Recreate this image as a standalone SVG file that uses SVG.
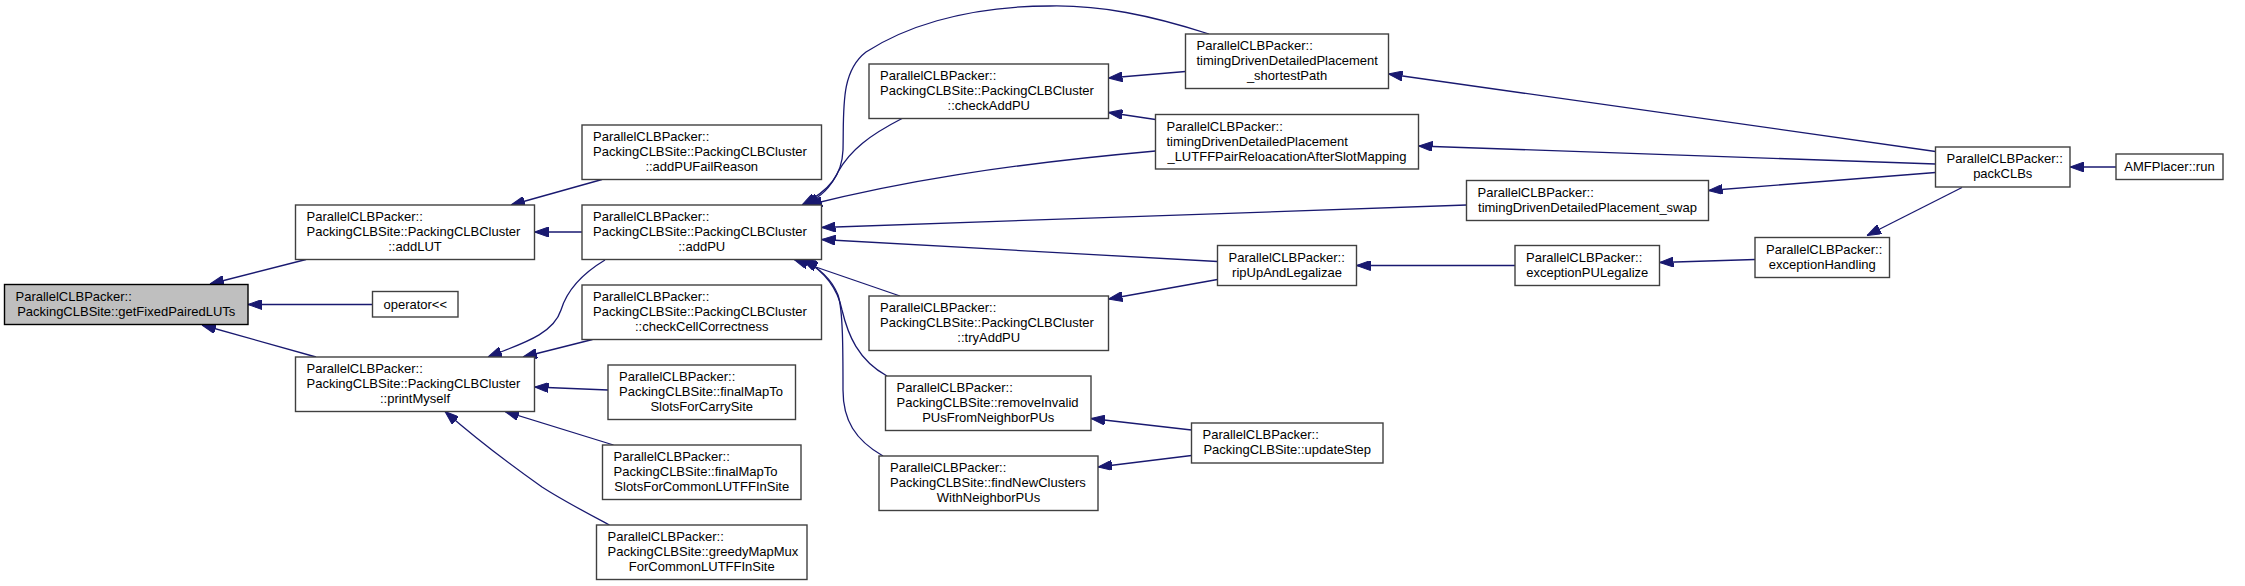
<svg xmlns="http://www.w3.org/2000/svg" width="2245" height="586" viewBox="0 0 2245 586">
<style>
.n rect{fill:#ffffff;stroke:#404040;stroke-width:1.4}
.root rect{fill:#bfbfbf;stroke:#000000;stroke-width:1.4}
text{font-family:"Liberation Sans",Arial,sans-serif;font-size:13px;fill:#000000}
.c{text-anchor:middle}
.e path{fill:none;stroke:#191970;stroke-width:1.3}
</style>
<defs>
<marker id="ah" viewBox="0 0 14 10" refX="14" refY="5" markerWidth="14" markerHeight="10" markerUnits="userSpaceOnUse" orient="auto">
<path d="M0,0 L14,5 L0,10 z" fill="#191970" stroke="#191970" stroke-width="1"/>
</marker>
</defs>
<rect x="0" y="0" width="2245" height="586" fill="#ffffff"/>
<g id="edges" class="e">
<path marker-end="url(#ah)" d="M306,259.5 L210,284"/>
<path marker-end="url(#ah)" d="M372.5,304.5 L248,304.5"/>
<path marker-end="url(#ah)" d="M316,357 L202,325"/>
<path marker-end="url(#ah)" d="M602,179.5 L511,205"/>
<path marker-end="url(#ah)" d="M582,232 L534.5,232"/>
<path marker-end="url(#ah)" d="M605,260 C585,272 568,287 561,310 C553,335 520,344 488,357"/>
<path marker-end="url(#ah)" d="M592.5,339.5 L523,357"/>
<path marker-end="url(#ah)" d="M608,390 L534.5,387"/>
<path marker-end="url(#ah)" d="M613.5,445 L505,411.5"/>
<path marker-end="url(#ah)" d="M609.5,525 C585,512 562,500 542,487 C515,468 480,442 445,411.5"/>
<path marker-end="url(#ah)" d="M1209,34 C1150,15 1100,5 1050,6 C960,6 900,30 866,52 C840,72 844,110 843,150 C842,175 830,190 802,205"/>
<path marker-end="url(#ah)" d="M902,118.5 C870,135 850,150 838,172 C830,188 822,196 805,205"/>
<path marker-end="url(#ah)" d="M1155.5,151 C1000,165 900,182 808,205"/>
<path marker-end="url(#ah)" d="M1466.5,205 L821.5,227.5"/>
<path marker-end="url(#ah)" d="M1217.5,261.5 L821.5,239.5"/>
<path marker-end="url(#ah)" d="M900,296 L794,259.5"/>
<path marker-end="url(#ah)" d="M887,376 C858,360 848,335 842,310 C838,290 825,272 804,259.5"/>
<path marker-end="url(#ah)" d="M883,456 C855,440 843,420 843,390 C843,350 843,310 838,295 C832,280 820,268 802,259.5"/>
<path marker-end="url(#ah)" d="M1185.5,71.5 L1108.5,78"/>
<path marker-end="url(#ah)" d="M1155.5,119.5 L1108.5,112.5"/>
<path marker-end="url(#ah)" d="M1217.5,279.5 L1108.5,299"/>
<path marker-end="url(#ah)" d="M1191.5,430 L1091,418.5"/>
<path marker-end="url(#ah)" d="M1191.5,455.5 L1098,467"/>
<path marker-end="url(#ah)" d="M1935.5,151.5 L1388.5,74"/>
<path marker-end="url(#ah)" d="M1935.5,164 L1418.5,146"/>
<path marker-end="url(#ah)" d="M1935.5,172.5 L1708.5,190.5"/>
<path marker-end="url(#ah)" d="M1515,265.5 L1356.5,265.5"/>
<path marker-end="url(#ah)" d="M1755,259.5 L1659.5,262.5"/>
<path marker-end="url(#ah)" d="M1962,187.5 L1867,235.5"/>
<path marker-end="url(#ah)" d="M2116,167 L2070,167"/>
</g>
<g id="getFixedPairedLUTs" class="root"><rect x="4.5" y="284.5" width="243.5" height="40"/><text x="15.5" y="300.5">ParallelCLBPacker::</text><text class="c" x="126.25" y="315.5">PackingCLBSite::getFixedPairedLUTs</text></g>
<g id="addLUT" class="n"><rect x="295.5" y="205" width="239" height="54.5"/><text x="306.5" y="221">ParallelCLBPacker::</text><text x="306.5" y="236">PackingCLBSite::PackingCLBCluster</text><text class="c" x="415" y="251">::addLUT</text></g>
<g id="operator" class="n"><rect x="372.5" y="291.5" width="85.5" height="25.5"/><text class="c" x="415.25" y="308.5">operator&lt;&lt;</text></g>
<g id="printMyself" class="n"><rect x="295.5" y="357" width="239" height="54.5"/><text x="306.5" y="373">ParallelCLBPacker::</text><text x="306.5" y="388">PackingCLBSite::PackingCLBCluster</text><text class="c" x="415" y="403">::printMyself</text></g>
<g id="addPUFailReason" class="n"><rect x="582" y="125" width="239.5" height="54.5"/><text x="593" y="141">ParallelCLBPacker::</text><text x="593" y="156">PackingCLBSite::PackingCLBCluster</text><text class="c" x="701.75" y="171">::addPUFailReason</text></g>
<g id="addPU" class="n"><rect x="582" y="205" width="239.5" height="54.5"/><text x="593" y="221">ParallelCLBPacker::</text><text x="593" y="236">PackingCLBSite::PackingCLBCluster</text><text class="c" x="701.75" y="251">::addPU</text></g>
<g id="checkCellCorrectness" class="n"><rect x="582" y="285" width="239.5" height="54.5"/><text x="593" y="301">ParallelCLBPacker::</text><text x="593" y="316">PackingCLBSite::PackingCLBCluster</text><text class="c" x="701.75" y="331">::checkCellCorrectness</text></g>
<g id="finalMapToSlotsForCarrySite" class="n"><rect x="608" y="365" width="187.5" height="54.5"/><text x="619" y="381">ParallelCLBPacker::</text><text x="619" y="396">PackingCLBSite::finalMapTo</text><text class="c" x="701.75" y="411">SlotsForCarrySite</text></g>
<g id="finalMapToSlotsForCommonLUTFFInSite" class="n"><rect x="602.5" y="445" width="198.5" height="54.5"/><text x="613.5" y="461">ParallelCLBPacker::</text><text x="613.5" y="476">PackingCLBSite::finalMapTo</text><text class="c" x="701.75" y="491">SlotsForCommonLUTFFInSite</text></g>
<g id="greedyMapMuxForCommonLUTFFInSite" class="n"><rect x="596.5" y="525" width="210.5" height="54.5"/><text x="607.5" y="541">ParallelCLBPacker::</text><text x="607.5" y="556">PackingCLBSite::greedyMapMux</text><text class="c" x="701.75" y="571">ForCommonLUTFFInSite</text></g>
<g id="checkAddPU" class="n"><rect x="869" y="64" width="239.5" height="54.5"/><text x="880" y="80">ParallelCLBPacker::</text><text x="880" y="95">PackingCLBSite::PackingCLBCluster</text><text class="c" x="988.75" y="110">::checkAddPU</text></g>
<g id="tryAddPU" class="n"><rect x="869" y="296" width="239.5" height="54.5"/><text x="880" y="312">ParallelCLBPacker::</text><text x="880" y="327">PackingCLBSite::PackingCLBCluster</text><text class="c" x="988.75" y="342">::tryAddPU</text></g>
<g id="removeInvalidPUsFromNeighborPUs" class="n"><rect x="885.5" y="376" width="205.5" height="54.5"/><text x="896.5" y="392">ParallelCLBPacker::</text><text x="896.5" y="407">PackingCLBSite::removeInvalid</text><text class="c" x="988.25" y="422">PUsFromNeighborPUs</text></g>
<g id="findNewClustersWithNeighborPUs" class="n"><rect x="879" y="456" width="219" height="54.5"/><text x="890" y="472">ParallelCLBPacker::</text><text x="890" y="487">PackingCLBSite::findNewClusters</text><text class="c" x="988.5" y="502">WithNeighborPUs</text></g>
<g id="shortestPath" class="n"><rect x="1185.5" y="34" width="203" height="54.5"/><text x="1196.5" y="50">ParallelCLBPacker::</text><text x="1196.5" y="65">timingDrivenDetailedPlacement</text><text class="c" x="1287" y="80">_shortestPath</text></g>
<g id="LUTFFPairReloacation" class="n"><rect x="1155.5" y="114.5" width="263" height="54.5"/><text x="1166.5" y="130.5">ParallelCLBPacker::</text><text x="1166.5" y="145.5">timingDrivenDetailedPlacement</text><text class="c" x="1287" y="160.5">_LUTFFPairReloacationAfterSlotMapping</text></g>
<g id="swap" class="n"><rect x="1466.5" y="180.5" width="242" height="40"/><text x="1477.5" y="196.5">ParallelCLBPacker::</text><text class="c" x="1587.5" y="211.5">timingDrivenDetailedPlacement_swap</text></g>
<g id="ripUpAndLegalizae" class="n"><rect x="1217.5" y="245.5" width="139" height="40"/><text x="1228.5" y="261.5">ParallelCLBPacker::</text><text class="c" x="1287" y="276.5">ripUpAndLegalizae</text></g>
<g id="exceptionPULegalize" class="n"><rect x="1515" y="245.5" width="144.5" height="40"/><text x="1526" y="261.5">ParallelCLBPacker::</text><text class="c" x="1587.25" y="276.5">exceptionPULegalize</text></g>
<g id="updateStep" class="n"><rect x="1191.5" y="423" width="191.5" height="40"/><text x="1202.5" y="439">ParallelCLBPacker::</text><text class="c" x="1287.25" y="454">PackingCLBSite::updateStep</text></g>
<g id="packCLBs" class="n"><rect x="1935.5" y="147" width="134.5" height="40"/><text x="1946.5" y="163">ParallelCLBPacker::</text><text class="c" x="2002.75" y="178">packCLBs</text></g>
<g id="exceptionHandling" class="n"><rect x="1755" y="237.5" width="134.5" height="40"/><text x="1766" y="253.5">ParallelCLBPacker::</text><text class="c" x="1822.25" y="268.5">exceptionHandling</text></g>
<g id="AMFPlacer_run" class="n"><rect x="2116" y="154" width="107" height="25.5"/><text class="c" x="2169.5" y="171">AMFPlacer::run</text></g>
</svg>
